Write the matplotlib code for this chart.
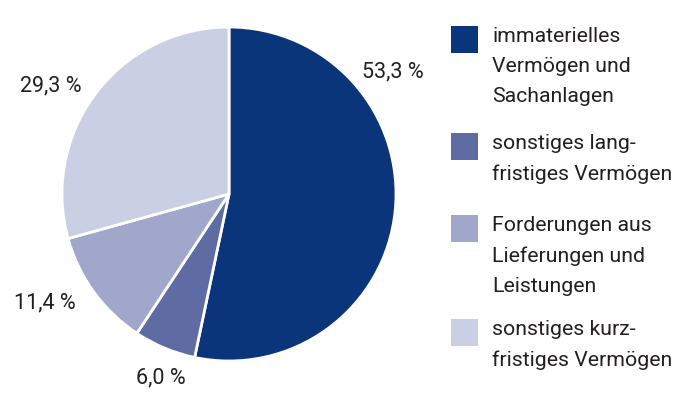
import matplotlib
matplotlib.use("Agg")
import matplotlib.pyplot as plt
from matplotlib.patches import Rectangle

plt.rcParams['font.family'] = ['Roboto', 'DejaVu Sans']

shares = [53.3, 6.0, 11.4, 29.3]
share_labels = ["53,3 %", "6,0 %", "11,4 %", "29,3 %"]
legend_labels = ["immaterielles\nVermögen und\nSachanlagen",
                 "sonstiges lang-\nfristiges Vermögen",
                 "Forderungen aus\nLieferungen und\nLeistungen",
                 "sonstiges kurz-\nfristiges Vermögen"]
colors = ["#0b357a", "#5f6ba3", "#a1a7ca", "#cbcfe4"]

# where the percent labels sit (data units, pie radius = 1)
label_pos = [(0.98, 0.73), (-0.41, -1.10), (-1.10, -0.65), (-1.07, 0.65)]
# legend square tops in pixels from top
legend_tops = [26, 133, 215, 319]

W, H = 700, 416
fig = plt.figure(figsize=(7, 4.16), dpi=100)
ax = fig.add_axes([62 / W, (H - 361) / H, 334 / W, 334 / H])
ax.pie(shares, colors=colors, startangle=90, counterclock=False, radius=1,
       wedgeprops=dict(edgecolor="white", linewidth=2))
ax.set_xlim(-1, 1)
ax.set_ylim(-1, 1)
ax.set_aspect("equal")
ax.axis("off")

for (x, y), lab in zip(label_pos, share_labels):
    ax.text(x, y, lab, ha="center", va="center", fontsize=15.5,
            color="#231f20", clip_on=False)

for top, lab, c in zip(legend_tops, legend_labels, colors):
    fig.patches.append(Rectangle((451 / W, 1 - (top + 27) / H), 27 / W, 27 / H,
                                 transform=fig.transFigure, facecolor=c,
                                 edgecolor="none"))
    fig.text(492 / W, 1 - (top + 1) / H, lab, ha="left", va="top",
             fontsize=15.3, color="#231f20", linespacing=1.75)

fig.savefig("out.png", dpi=100)
